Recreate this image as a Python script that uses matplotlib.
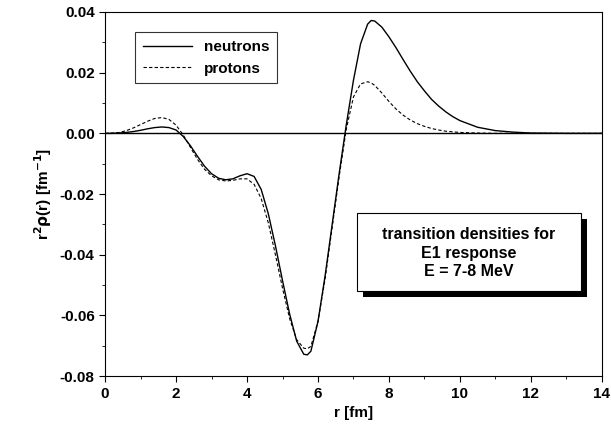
import matplotlib.pyplot as plt
import numpy as np

r = [0.0, 0.2, 0.4, 0.6, 0.8, 1.0, 1.2, 1.4, 1.6, 1.8, 2.0, 2.2, 2.4, 2.6, 2.8, 3.0, 3.2,
     3.4, 3.6, 3.8, 4.0, 4.2, 4.4, 4.6, 4.8, 5.0, 5.2, 5.4, 5.6, 5.7, 5.8, 6.0, 6.2, 6.4,
     6.6, 6.8, 7.0, 7.2, 7.4, 7.5, 7.6, 7.8, 8.0, 8.2, 8.4, 8.6, 8.8, 9.0, 9.2, 9.4, 9.6,
     9.8, 10.0, 10.5, 11.0, 11.5, 12.0, 13.0, 14.0]
neutrons = [0.0, 0.0, 0.0001, 0.0003, 0.0006, 0.0010, 0.0015, 0.0019, 0.0021, 0.0019, 0.0011,
            -0.0010, -0.0040, -0.0075, -0.0108, -0.0133, -0.0148, -0.0153, -0.0150, -0.0140,
            -0.0133, -0.0142, -0.0185, -0.0265, -0.0370, -0.0485, -0.0595, -0.0685, -0.0728,
            -0.0730, -0.0718, -0.0620, -0.0470, -0.0300, -0.0130, 0.0030, 0.0175, 0.0295,
            0.0360, 0.0372, 0.0370, 0.0350, 0.0318, 0.0282, 0.0243, 0.0205, 0.0170, 0.0140,
            0.0112, 0.0090, 0.0071, 0.0055, 0.0042, 0.0020, 0.0009, 0.0004, 0.0001, 0.0, 0.0]
protons = [0.0, 0.0001, 0.0003, 0.0009, 0.0018, 0.0029, 0.0040, 0.0049, 0.0052, 0.0046, 0.0027,
           -0.0005, -0.0045, -0.0085, -0.0118, -0.0140, -0.0153, -0.0157, -0.0155, -0.0150,
           -0.0150, -0.0168, -0.0215, -0.0295, -0.0400, -0.0510, -0.0610, -0.0680, -0.0708,
           -0.0710, -0.0702, -0.0620, -0.0480, -0.0310, -0.0140, 0.0015, 0.0120, 0.0163,
           0.0170, 0.0166, 0.0158, 0.0133, 0.0105, 0.0080, 0.0060, 0.0044, 0.0032, 0.0023,
           0.0016, 0.0011, 0.0007, 0.0005, 0.0003, 0.0001, 0.0, 0.0, 0.0, 0.0, 0.0]

plt.rcParams['font.family'] = ['Liberation Sans', 'DejaVu Sans']
plt.rcParams['font.weight'] = 'bold'
fig = plt.figure(figsize=(6.11, 4.43), dpi=100)
ax = fig.add_axes([0.172, 0.151, 0.813, 0.822])
ax.plot(r, neutrons, 'k-', lw=1, label='neutrons')
ax.plot(r, protons, 'k--', lw=0.8, dashes=(3, 2), label='protons')
ax.axhline(0, color='k', lw=1)
ax.set_xlim(0, 14)
ax.set_ylim(-0.08, 0.04)
ax.set_xticks(np.arange(0, 15, 2))
ax.set_yticks([-0.08, -0.06, -0.04, -0.02, 0.0, 0.02, 0.04])
ax.set_yticklabels(['%.2f' % v for v in ax.get_yticks()])
ax.set_xticks(np.arange(1, 14, 2), minor=True)
ax.set_yticks(np.arange(-0.07, 0.04, 0.02), minor=True)
ax.tick_params(which='major', direction='out', length=4, labelsize=11)
ax.tick_params(which='minor', direction='out', length=2)
for lab in ax.get_xticklabels() + ax.get_yticklabels():
    lab.set_fontweight('bold')
ax.set_xlabel('r [fm]', fontsize=11, fontweight='bold')
ax.set_ylabel(r'r$^\mathbf{2}$$\mathbf{\rho}$(r) [fm$^\mathbf{-1}$]', fontsize=11, fontweight='bold')
leg = ax.legend(loc='upper left', bbox_to_anchor=(0.045, 0.965), fancybox=False, edgecolor='k',
                fontsize=11, handlelength=3.2, borderpad=0.5)
leg.get_frame().set_linewidth(0.8)
for t in leg.get_texts():
    t.set_fontweight('bold')

# shadowed text box
ax.add_patch(plt.Rectangle((7.27, -0.0540), 6.3, 0.0257, facecolor='k', zorder=3))
ax.add_patch(plt.Rectangle((7.1, -0.0520), 6.3, 0.0257, facecolor='w', edgecolor='k',
                           lw=0.8, zorder=4))
ax.text(10.25, -0.0395, 'transition densities for\nE1 response\nE = 7-8 MeV', ha='center',
        va='center', fontsize=11.5, fontweight='bold', linespacing=1.3, zorder=5)
fig.savefig('out.png')
